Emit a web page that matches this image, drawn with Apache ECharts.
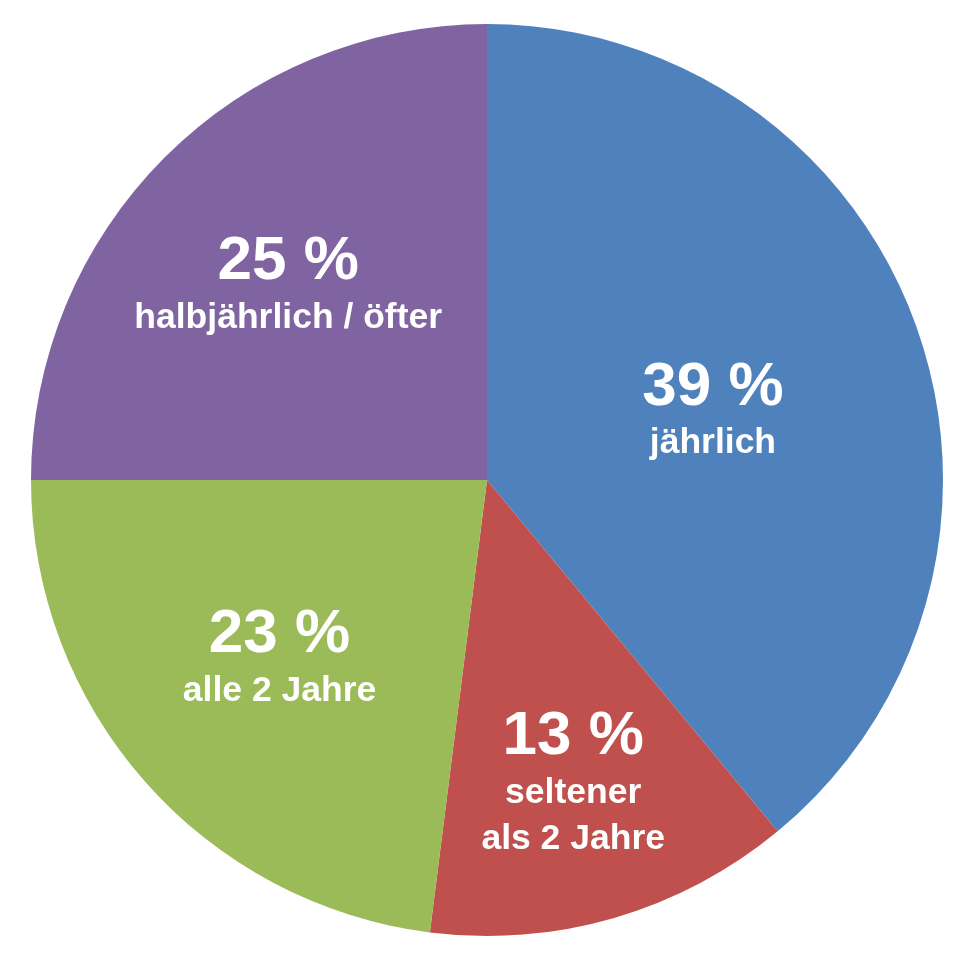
<!DOCTYPE html>
<html>
<head>
<meta charset="utf-8">
<script src="https://cdn.jsdelivr.net/npm/echarts@6/dist/echarts.min.js"></script>
<style>
  html, body { margin: 0; padding: 0; background: #fff; }
  #pie { width: 970px; height: 964px; }
</style>
</head>
<body>
<div id="pie"></div>
<script>
const categories = [
  "jährlich",
  "seltener\nals 2 Jahre",
  "alle 2 Jahre",
  "halbjährlich / öfter",
];
const shares = [39, 13, 23, 25];
const sliceColors = ["#4f81bd", "#c0504d", "#9bbb59", "#8064a2"];

// how far out (fraction of radius) each label sits along its slice middle,
// plus a small pixel nudge
const labelRadius = [0.52, 0.71, 0.6, 0.61];
const labelNudge = [[0, 12], [-5, -11], [0, -5], [0, 4]];

const pieRadius = 456;
const total = shares.reduce((a, b) => a + b, 0);

const labelShift = (i) => {
  let before = 0;
  for (let k = 0; k < i; k++) before += shares[k];
  const mid = ((before + shares[i] / 2) / total) * 2 * Math.PI;
  const extra = (labelRadius[i] - 0.5) * pieRadius;
  return {
    dx: extra * Math.sin(mid) + labelNudge[i][0],
    dy: -extra * Math.cos(mid) + labelNudge[i][1],
  };
};

const chart = echarts.init(document.getElementById("pie"));

const option = {
  animation: false,
  series: [
    {
      type: "pie",
      center: [487, 480],
      radius: [0, pieRadius],
      startAngle: 90,
      clockwise: true,
      silent: true,
      itemStyle: { borderWidth: 0 },
      labelLine: { show: false },
      label: {
        show: true,
        position: "inside",
        color: "#fff",
        fontFamily: "Liberation Sans, Arial, sans-serif",
        fontWeight: "bold",
        formatter: (p) => "{p|" + p.value + " %}\n{n|" + p.name + "}",
        rich: {
          p: {
            fontSize: 62,
            lineHeight: 66,
            fontWeight: "bold",
            color: "#fff",
            fontFamily: "Liberation Sans, Arial, sans-serif",
          },
          n: {
            fontSize: 35.5,
            lineHeight: 46,
            fontWeight: "bold",
            color: "#fff",
            fontFamily: "Liberation Sans, Arial, sans-serif",
          },
        },
      },
      labelLayout: (params) => labelShift(params.dataIndex),
      data: categories.map((name, i) => ({
        name: name,
        value: shares[i],
        itemStyle: { color: sliceColors[i] },
      })),
    },
  ],
};

chart.setOption(option);
</script>
</body>
</html>
